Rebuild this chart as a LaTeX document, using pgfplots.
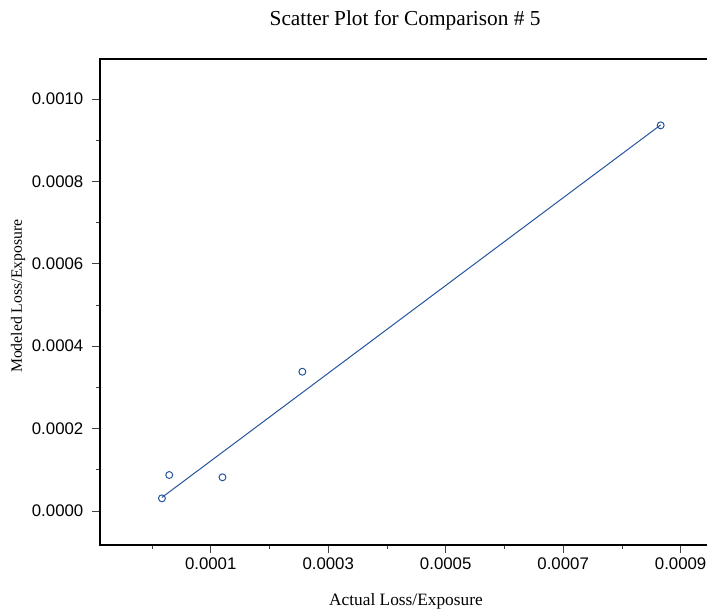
\documentclass[border=0pt]{standalone}
\usepackage{pgfplots}
\pgfplotsset{compat=1.18}
\usepackage{fontspec}
\setmainfont{Liberation Serif}
\newfontfamily\arial{Liberation Sans}
\definecolor{sasblue}{RGB}{35,85,155}
\begin{document}
\begin{tikzpicture}
\begin{axis}[name=ax, at={(0,0)}, anchor=south west,
  scale only axis, width=465pt, height=364.5pt,
  xmin=-0.0000885, xmax=0.000967, ymin=-0.0000825, ymax=0.001097,
  xtick={0.0001,0.0003,0.0005,0.0007,0.0009},
  minor xtick={0,0.0002,0.0004,0.0006,0.0008},
  ytick={0,0.0002,0.0004,0.0006,0.0008,0.0010},
  minor ytick={0.0001,0.0003,0.0005,0.0007,0.0009},
  tick pos=left, tick align=outside,
  major tick length=6pt, minor tick length=3pt,
  major tick style={line width=0.6pt, black!75},
  minor tick style={line width=0.6pt, black!75},
  axis line style={line width=1.1pt},
  ticklabel style={font=\arial\fontsize{12.6}{15}\selectfont},
  yticklabel style={xshift=-3pt},
  scaled ticks=false,
  xticklabel={\pgfmathprintnumber[fixed,fixed zerofill,precision=4,assume math mode=true]{\tick}},
  yticklabel={\pgfmathprintnumber[fixed,fixed zerofill,precision=4,assume math mode=true]{\tick}},
  clip=false,
]
\addplot[sasblue, line width=0.75pt] coordinates {(0.0000170,0.0000330) (0.0008660,0.0009370)};
\addplot[only marks, mark=o, mark size=2.6pt, sasblue, mark options={line width=0.75pt}] coordinates {
(0.0000170,0.0000308)
(0.0000294,0.0000874)
(0.0001200,0.0000818)
(0.0002560,0.0003380)
(0.0008660,0.0009360)
};
\node[font=\fontsize{16}{19}\selectfont] at (rel axis cs:0.492,1.080) {Scatter Plot for Comparison \# 5};
\node[font=\fontsize{13}{15}\selectfont] at (rel axis cs:0.4935,-0.115) {Actual Loss/Exposure};
\node[font=\fontsize{11.8}{14}\selectfont, rotate=90] at (rel axis cs:-0.132,0.512) {Modeled Loss/Exposure};
\end{axis}
\pgfresetboundingbox
\useasboundingbox (-75pt,-51.75pt) rectangle (455.25pt,408.75pt);
\end{tikzpicture}
\end{document}
